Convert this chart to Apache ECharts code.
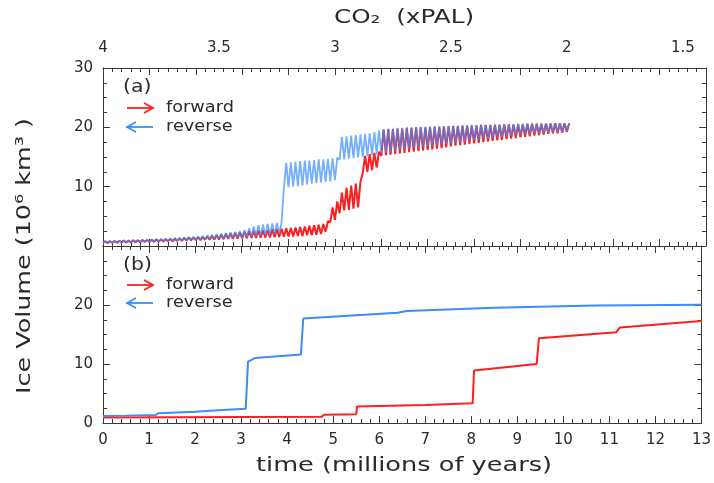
<!DOCTYPE html>
<html>
<head>
<meta charset="utf-8">
<script src="https://cdn.jsdelivr.net/npm/echarts@6/dist/echarts.min.js"></script>
<style>html,body{margin:0;padding:0;background:#fff}#c{width:714px;height:483px}</style>
</head>
<body>
<div id="c"></div>
<script>
// ---------- DATA ----------
// Panel (a): envelope (low / high of the orbital oscillation) sampled every 0.1 Myr from t = 0 to 10
const aStart = 0;
const aStep = 0.1;
const fwdLow = [
  0.5,0.5,0.55,0.55,0.6,0.6,0.6,0.65,0.65,0.7,0.7,
  0.7,0.75,0.75,0.8,0.8,0.85,0.85,0.9,0.95,1.0,
  1.0,1.05,1.05,1.1,1.1,1.15,1.2,1.2,1.25,1.3,
  1.3,1.35,1.35,1.4,1.4,1.45,1.5,1.5,1.55,1.6,
  1.6,1.7,1.7,1.8,1.8,1.9,2.0,2.4,4.0,4.4,
  5.5,6.0,6.1,6.3,6.5,12.3,12.5,12.8,13.2,15.2,
  15.3,15.4,15.5,15.6,15.7,15.8,15.9,16.0,16.1,16.2,
  16.3,16.4,16.5,16.6,16.8,16.9,17.0,17.1,17.2,17.3,
  17.4,17.5,17.6,17.7,17.8,17.9,18.0,18.1,18.2,18.3,
  18.4,18.5,18.6,18.7,18.8,18.9,19.0,19.0,19.1,19.2
];
const fwdHigh = [
  0.8,0.8,0.85,0.85,0.9,0.9,0.95,0.95,1.0,1.0,1.05,
  1.1,1.1,1.15,1.2,1.25,1.3,1.35,1.4,1.45,1.5,
  1.55,1.6,1.7,1.8,1.9,2.0,2.1,2.2,2.3,2.4,
  2.5,2.55,2.6,2.65,2.7,2.8,2.85,2.9,3.0,3.05,
  3.1,3.2,3.3,3.4,3.5,3.6,3.7,4.2,6.5,7.5,
  9.0,9.8,10.2,10.5,10.8,15.2,15.5,15.7,15.9,19.6,
  19.7,19.7,19.8,19.8,19.9,19.9,20.0,20.0,20.0,20.1,
  20.1,20.1,20.2,20.2,20.2,20.2,20.3,20.3,20.3,20.3,
  20.4,20.4,20.4,20.4,20.4,20.5,20.5,20.5,20.5,20.5,
  20.6,20.6,20.6,20.6,20.6,20.6,20.7,20.7,20.7,20.7
];
const revLow = [
  0.5,0.5,0.55,0.55,0.6,0.6,0.6,0.65,0.65,0.7,0.7,
  0.75,0.75,0.8,0.8,0.85,0.9,0.9,0.95,1.0,1.05,
  1.1,1.1,1.15,1.2,1.2,1.25,1.3,1.35,1.4,1.45,
  1.5,1.55,1.6,1.7,1.8,1.9,2.0,2.1,9.8,9.9,
  10.0,10.1,10.2,10.4,10.5,10.6,10.7,10.8,10.9,11.1,
  14.5,14.6,14.7,14.8,14.9,15.0,15.1,15.3,15.5,15.7,
  15.8,15.9,16.0,16.2,16.3,16.4,16.5,16.6,16.7,16.8,
  16.9,17.0,17.1,17.2,17.3,17.4,17.5,17.6,17.7,17.8,
  17.9,18.0,18.1,18.2,18.3,18.4,18.5,18.6,18.7,18.8,
  18.8,18.9,19.0,19.0,19.1,19.1,19.2,19.2,19.3,19.3
];
const revHigh = [
  0.8,0.85,0.85,0.9,0.9,0.95,0.95,1.0,1.0,1.05,1.1,
  1.15,1.2,1.25,1.3,1.35,1.4,1.45,1.5,1.55,1.6,
  1.7,1.8,1.9,2.0,2.1,2.2,2.3,2.4,2.5,2.7,
  3.0,3.3,3.5,3.6,3.7,3.8,3.9,4.0,14.0,14.1,
  14.2,14.3,14.4,14.4,14.5,14.6,14.6,14.7,14.8,14.9,
  18.4,18.5,18.6,18.7,18.8,18.9,19.0,19.2,19.5,19.7,
  19.8,19.8,19.9,19.9,20.0,20.0,20.0,20.1,20.1,20.1,
  20.2,20.2,20.2,20.2,20.3,20.3,20.3,20.3,20.4,20.4,
  20.4,20.4,20.4,20.5,20.5,20.5,20.5,20.5,20.6,20.6,
  20.6,20.6,20.6,20.6,20.7,20.7,20.7,20.7,20.7,20.7
];
// Panel (b): filtered ice volume, [time (Myr), volume (10^6 km^3)]
const fwdB = [[0,0.95],[3,1.0],[4.75,1.05],[4.8,1.4],[5.5,1.5],[5.52,2.8],[7,3.05],[8.03,3.35],[8.06,8.9],[9.42,10.0],[9.47,14.35],[11.15,15.4],[11.23,16.2],[13,17.3]];
const revB = [[0,1.2],[0.5,1.25],[1.15,1.35],[1.2,1.65],[2.0,1.9],[2.5,2.15],[3.1,2.4],[3.15,10.4],[3.3,11.0],[4.3,11.6],[4.35,17.7],[5.5,18.25],[6.4,18.7],[6.6,19.0],[8.5,19.55],[10.7,19.9],[13,20.05]];
// Tick labels
const timeTicks = [0,1,2,3,4,5,6,7,8,9,10,11,12,13];
const co2Ticks = [4,3.5,3,2.5,2,1.5];
const volTicksA = [0,10,20,30];
const volTicksB = [0,10,20];

// ---------- CHART ----------
const RED = '#ff1e1e', BLUE = '#3a8cff', FRAME = '#3a3a3a', TXT = '#2a2a2a';
const FONT = 'DejaVu Sans';

function zigzag(low, high) {
  const pts = [];
  low.forEach((v, i) => {
    const t = +(aStart + i * aStep).toFixed(3);
    pts.push([t, v]);
    pts.push([+(t + aStep / 2).toFixed(3), high[i]]);
  });
  return pts;
}

const timeAxisBase = (grid, pos, showLabels) => ({
  type: 'value', gridIndex: grid, position: pos, min: 0, max: 13, interval: 1,
  axisLine: { show: true, onZero: false, lineStyle: { color: FRAME, width: 1 } },
  axisTick: { show: true, inside: true, length: 7, lineStyle: { color: FRAME } },
  minorTick: { show: true, splitNumber: 5, length: 4, lineStyle: { color: FRAME } },
  splitLine: { show: false },
  axisLabel: showLabels ? {
    show: true, customValues: timeTicks, color: TXT, fontFamily: FONT, fontSize: 15, margin: 10
  } : { show: false }
});
const volAxisBase = (grid, pos, labels) => ({
  type: 'value', gridIndex: grid, position: pos, min: 0, max: 30, interval: 10,
  axisLine: { show: true, onZero: false, lineStyle: { color: FRAME, width: 1 } },
  axisTick: { show: true, inside: true, length: 7, lineStyle: { color: FRAME } },
  minorTick: { show: true, splitNumber: 4, length: 4, lineStyle: { color: FRAME } },
  splitLine: { show: false },
  axisLabel: labels ? {
    show: true, customValues: labels, color: TXT, fontFamily: FONT, fontSize: 15, margin: 10
  } : { show: false }
});

const chart = echarts.init(document.getElementById('c'), null, { renderer: 'canvas' });

function arrow(x1, x2, y, color) {
  const dir = x2 > x1 ? 1 : -1;
  return [
    { type: 'polyline', shape: { points: [[x1, y], [x2, y]] }, style: { stroke: color, lineWidth: 1.8, fill: null } },
    { type: 'polyline', shape: { points: [[x2 - dir * 9, y - 5], [x2, y], [x2 - dir * 9, y + 5]] }, style: { stroke: color, lineWidth: 1.8, fill: null } }
  ];
}
function label(x, y, text, size, sx, align, rot) {
  return { type: 'text', x: x, y: y, scaleX: sx || 1, rotation: rot || 0,
    style: { text: text, fill: TXT, font: size + 'px "' + FONT + '"', textAlign: align || 'left', textVerticalAlign: 'middle' } };
}

const graphics = [
  label(123, 88, '(a)', 17, 1.2),
  ...arrow(127, 153, 108, RED), label(166, 108, 'forward', 15, 1.18),
  ...arrow(153, 127, 127, BLUE), label(166, 127, 'reverse', 15, 1.18),
  label(123, 266, '(b)', 17, 1.2),
  ...arrow(127, 153, 285, RED), label(166, 285, 'forward', 15, 1.18),
  ...arrow(153, 127, 303, BLUE), label(166, 303, 'reverse', 15, 1.18),
  label(25, 256, 'Ice Volume (10⁶ km³ )', 20, 1.27, 'center', Math.PI / 2),
  label(404, 466, 'time (millions of years)', 20, 1.28, 'center'),
  label(404, 18, 'CO₂  (xPAL)', 19, 1.3, 'center')
];

chart.setOption({
  animation: false,
  backgroundColor: '#fff',
  grid: [
    { left: 103, top: 68, width: 603, height: 178 },
    { left: 103, top: 246, width: 603, height: 177 }
  ],
  xAxis: [
    timeAxisBase(0, 'bottom', false),
    timeAxisBase(0, 'top', false),
    {
      type: 'value', gridIndex: 0, position: 'top', min: 1.4, max: 4, inverse: true,
      axisLine: { show: false, onZero: false }, axisTick: { show: false }, splitLine: { show: false },
      axisLabel: { show: true, customValues: co2Ticks, color: TXT, fontFamily: FONT, fontSize: 15, margin: 12 }
    },
    timeAxisBase(1, 'bottom', true),
    timeAxisBase(1, 'top', false)
  ],
  yAxis: [
    volAxisBase(0, 'left', volTicksA),
    volAxisBase(0, 'right', null),
    volAxisBase(1, 'left', volTicksB),
    volAxisBase(1, 'right', null)
  ],
  graphic: graphics,
  series: [
    { type: 'line', xAxisIndex: 0, yAxisIndex: 0, data: zigzag(fwdLow, fwdHigh), showSymbol: false,
      lineStyle: { color: RED, width: 2 }, z: 2 },
    { type: 'line', xAxisIndex: 0, yAxisIndex: 0, data: zigzag(revLow, revHigh), showSymbol: false,
      lineStyle: { color: BLUE, width: 1.8, opacity: 0.7 }, z: 3 },
    { type: 'line', xAxisIndex: 3, yAxisIndex: 2, data: fwdB, showSymbol: false,
      lineStyle: { color: RED, width: 2 }, z: 2 },
    { type: 'line', xAxisIndex: 3, yAxisIndex: 2, data: revB, showSymbol: false,
      lineStyle: { color: BLUE, width: 2 }, z: 3 }
  ]
});
</script>
</body>
</html>
